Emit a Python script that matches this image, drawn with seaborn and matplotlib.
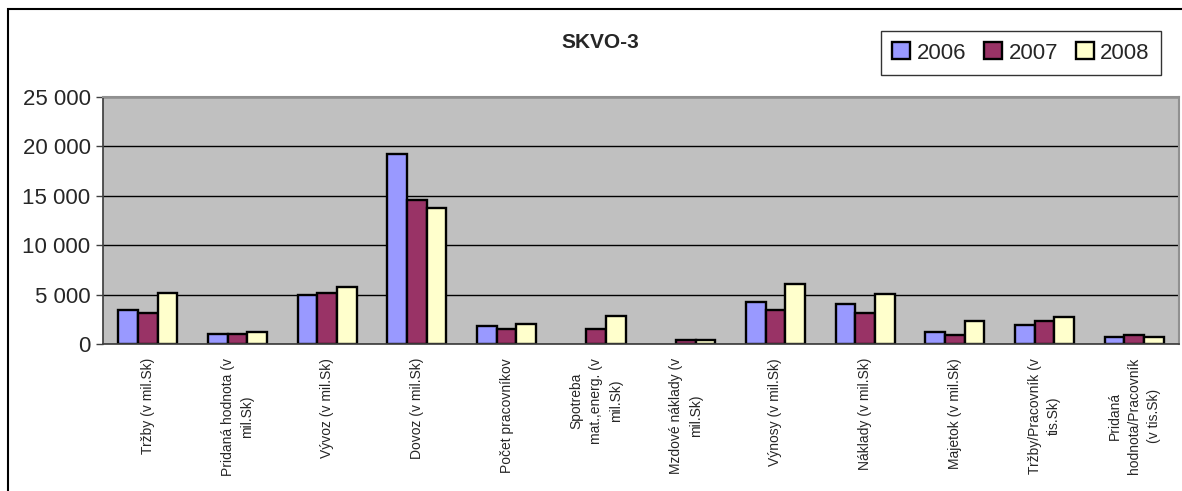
import numpy as np
import pandas as pd
import seaborn as sns
import matplotlib.pyplot as plt
from matplotlib.patches import Rectangle
from matplotlib.ticker import FuncFormatter

# Údaje z grafu
categories = [
    "Tržby (v mil.Sk)",
    "Pridaná hodnota (v\nmil.Sk)",
    "Vývoz (v mil.Sk)",
    "Dovoz (v mil.Sk)",
    "Počet pracovníkov",
    "Spotreba\nmat.,energ. (v\nmil.Sk)",
    "Mzdové náklady (v\nmil.Sk)",
    "Výnosy (v mil.Sk)",
    "Náklady (v mil.Sk)",
    "Majetok (v mil.Sk)",
    "Tržby/Pracovník (v\ntis.Sk)",
    "Pridaná\nhodnota/Pracovník\n(v tis.Sk)",
]
years = ["2006", "2007", "2008"]
v2006 = [3410, 990, 4970, 19200, 1850, np.nan, np.nan, 4300, 4090, 1240, 1880, 670]
v2007 = [3180, 990, 5200, 14530, 1480, 1480, 440, 3490, 3090, 870, 2280, 870]
v2008 = [5200, 1230, 5800, 13760, 2050, 2850, 440, 6070, 5070, 2280, 2690, 670]
colors = ["#9999FF", "#993366", "#FFFFCC"]

df = pd.DataFrame({"kategoria": categories * 3,
                   "rok": [y for y in years for _ in categories],
                   "hodnota": v2006 + v2007 + v2008})

sns.set_theme(style="white")
plt.rcParams["font.family"] = ["Liberation Sans", "DejaVu Sans"]

W, H = 1182, 491
fig = plt.figure(figsize=(W / 100, H / 100), dpi=100)
ax = fig.add_axes([103 / W, 1 - 344 / H, (1179 - 103) / W, (344 - 97) / H])

sns.barplot(data=df, x="kategoria", y="hodnota", hue="rok", hue_order=years,
            palette=colors, width=0.66, edgecolor="black", linewidth=1.7,
            saturation=1, ax=ax, legend=True)

ax.set_facecolor("#C0C0C0")
ax.set_ylim(0, 25000)
ax.set_xlim(-0.5, len(categories) - 0.5)
ax.set_yticks(range(0, 25001, 5000))
ax.yaxis.set_major_formatter(FuncFormatter(lambda v, p: f"{int(v):,}".replace(",", " ")))
ax.yaxis.grid(True, color="black", linewidth=1)
ax.set_axisbelow(True)
ax.set_xlabel("")
ax.set_ylabel("")

# popisky kategórií
ax.set_xticks(range(len(categories)))
ax.set_xticklabels(categories, rotation=90, fontsize=10, ha="center", va="top",
                   multialignment="center", linespacing=1.5)
ax.tick_params(axis="x", length=0, pad=10)
ax.set_xticks(np.arange(0.5, len(categories) - 0.5), minor=True)
ax.tick_params(axis="x", which="minor", length=5, width=1, color="#606060", direction="out")
ax.tick_params(axis="y", length=5, width=1, color="#404040", direction="out",
               labelsize=16, pad=4, left=True)

for side in ["top", "right"]:
    ax.spines[side].set_color("#909090")
    ax.spines[side].set_linewidth(1.5)
ax.spines["left"].set_color("#404040")
ax.spines["bottom"].set_color("#404040")

fig.text(600 / W, 1 - 42 / H, "SKVO-3", fontsize=15, fontweight="bold",
         ha="center", va="center")

leg = ax.legend(title=None, loc="center",
                bbox_to_anchor=((1021 - 103) / (1179 - 103), (344 - 53) / (344 - 97)),
                ncol=3, fontsize=16, frameon=True, fancybox=False, edgecolor="black",
                handlelength=0.8, handleheight=0.8, handletextpad=0.3, columnspacing=0.8,
                borderpad=0.5)
leg.get_frame().set_linewidth(1)

# rám okolo celého grafu
fig.patches.append(Rectangle((8 / W, -0.1), 2, 1 - 9 / H + 0.1, transform=fig.transFigure,
                             fill=False, edgecolor="black", linewidth=1.5))

fig.savefig("out.png", dpi=100)
